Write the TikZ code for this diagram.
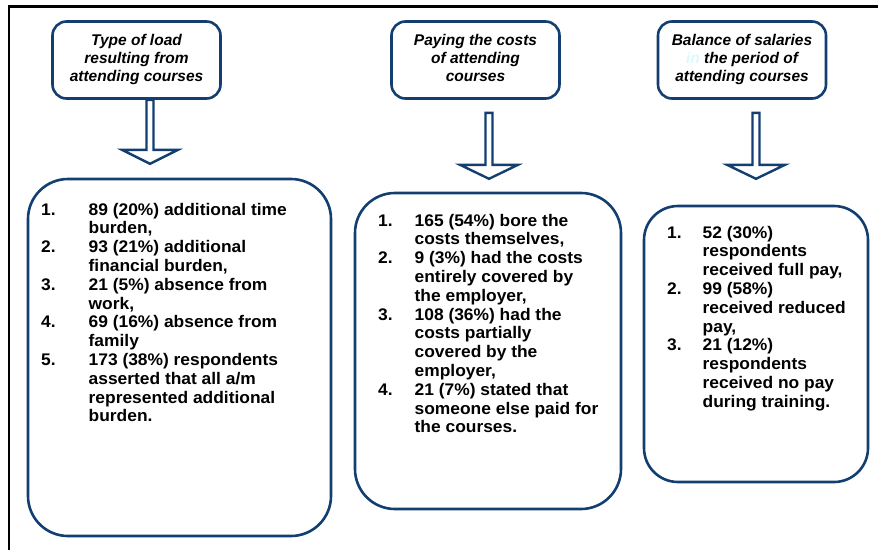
\documentclass[tikz,border=0pt]{standalone}
\usepackage{fontspec}
\setmainfont{Liberation Sans}
\newfontfamily\listfont{Liberation Sans}[FakeStretch=1.035]
\usetikzlibrary{calc}
\definecolor{navy}{RGB}{18,62,112}
\definecolor{palecyan}{RGB}{222,248,252}
\newcommand{\hollowarrow}[4]{%
  \draw[blockarrow] (#1) ++(-3.5,0) -- ++(0,#2) -- ++(-#3+3.5,0) -- ++(#3,#4)
    -- ++(#3,-#4) -- ++(-#3+3.5,0) -- ++(0,-#2) -- cycle;}
\begin{document}
\begin{tikzpicture}[x=1pt,y=-1pt,
  title/.style={draw=navy, line width=2.6pt, rounded corners=14pt, fill=white,
    minimum width=168pt, minimum height=77pt, align=center, inner sep=0pt,
    font=\fontsize{15.5}{17.8}\selectfont\bfseries\itshape},
  panel/.style={draw=navy, line width=2.6pt, rounded corners=#1, inner sep=0pt},
  panel/.default=40pt,
  items/.style={anchor=base west, inner sep=0pt,
    font=\listfont\fontsize{16.8}{18.8}\selectfont\bfseries},
  blockarrow/.style={draw=navy, line width=2.4pt, fill=white, line join=miter},
  frameline/.style={draw=black, line width=2.3pt}]
\useasboundingbox (0,0) rectangle (878,550);

% outer frame (top and left only)
\coordinate (fb) at (9,550);
\coordinate (fc) at (9,6.5);
\coordinate (fr) at (878,6.5);
\draw[frameline] (fb) -- (fc) -- (fr);

% title boxes
\node[title] (t1) at (136.5,60) {\raisebox{2pt}{\begin{tabular}{@{}c@{}}Type of load\\resulting from\\attending courses\end{tabular}}};
\node[title] (t2) at (475.5,60) {\raisebox{2pt}{\begin{tabular}{@{}c@{}}Paying the costs\\of attending\\courses\end{tabular}}};
\node[title] (t3) at (742,60) {\raisebox{2pt}{\begin{tabular}{@{}c@{}}Balance of salaries\\{\color{palecyan}in} the period of\\attending courses\end{tabular}}};

% panels
\node[panel, minimum width=303pt, minimum height=357pt] (p1) at (179.5,357.5) {};
\node[panel, minimum width=266pt, minimum height=316pt] (p2) at (488,351) {};
\node[panel=34pt, minimum width=224pt, minimum height=276pt] (p3) at (756,344) {};

% block arrows
\coordinate (a1) at ($(t1.south)+(13.5,0)$);
\coordinate (a2) at ($(t2.south)+(13.5,13)$);
\coordinate (a3) at ($(t3.south)+(14,13)$);
\hollowarrow{a1}{50}{28}{14}
\hollowarrow{a2}{52}{29}{14}
\hollowarrow{a3}{52}{29}{14}

% lists
\node[items] (l1) at (41,215) {\begin{tabular}[t]{@{}l@{\hspace{33pt}}l@{}}
1.& 89 (20\%) additional time\\
  & burden,\\
2.& 93 (21\%) additional\\
  & financial burden,\\
3.& 21 (5\%) absence from\\
  & work,\\
4.& 69 (16\%) absence from\\
  & family\\
5.& 173 (38\%) respondents\\
  & asserted that all a/m\\
  & represented additional\\
  & burden.
\end{tabular}};

\node[items] (l2) at (378,226) {\begin{tabular}[t]{@{}l@{\hspace{22pt}}l@{}}
1.& 165 (54\%) bore the\\
  & costs themselves,\\
2.& 9 (3\%) had the costs\\
  & entirely covered by\\
  & the employer,\\
3.& 108 (36\%) had the\\
  & costs partially\\
  & covered by the\\
  & employer,\\
4.& 21 (7\%) stated that\\
  & someone else paid for\\
  & the courses.
\end{tabular}};

\node[items] (l3) at (667,238) {\begin{tabular}[t]{@{}l@{\hspace{21pt}}l@{}}
1.& 52 (30\%)\\
  & respondents\\
  & received full pay,\\
2.& 99 (58\%)\\
  & received reduced\\
  & pay,\\
3.& 21 (12\%)\\
  & respondents\\
  & received no pay\\
  & during training.
\end{tabular}};
\end{tikzpicture}
\end{document}
